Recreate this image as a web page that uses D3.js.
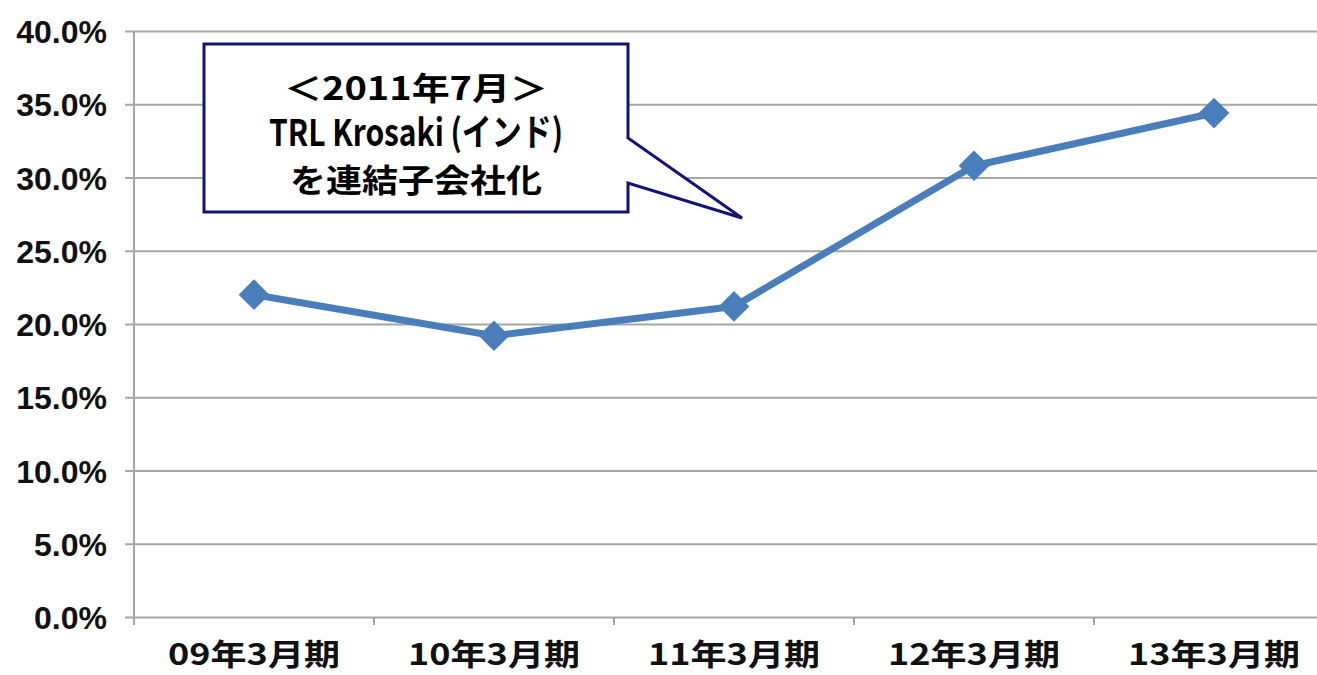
<!DOCTYPE html>
<html>
<head>
<meta charset="utf-8">
<script src="https://cdn.jsdelivr.net/npm/d3@7"></script>
<style>
  body { margin: 0; background: #fff; }
  svg { display: block; font-family: "Liberation Sans", Arial, "Noto Sans CJK JP", sans-serif; }
</style>
</head>
<body>
<div id="chart"></div>
<script>
const categories = ["09年3月期", "10年3月期", "11年3月期", "12年3月期", "13年3月期"];
const ratios = [22.0, 19.2, 21.2, 30.8, 34.4];
const yTicks = [0, 5, 10, 15, 20, 25, 30, 35, 40];
const calloutLines = ["＜2011年7月＞", "TRL Krosaki (インド)", "を連結子会社化"];

const width = 1317, height = 675;
const margin = {top: 31, left: 134};
const plotH = 586, plotW = 1200;

const svg = d3.select("#chart")
  .append("svg")
  .attr("width", width)
  .attr("height", height);

const g = svg.append("g")
  .attr("transform", `translate(${margin.left},${margin.top})`);

// scales
const x = d3.scaleBand().domain(categories).range([0, plotW]);
const y = d3.scaleLinear().domain([0, 40]).range([plotH, 0]);

// gridlines + y axis
const yAxis = g.append("g")
  .call(d3.axisLeft(y).tickValues(yTicks).tickSize(-plotW - 20).tickPadding(27)
    .tickFormat(d => d.toFixed(1) + "%"));
yAxis.select(".domain").remove();
yAxis.selectAll(".tick line").attr("x1", -9).attr("stroke", "#a6a6a6").attr("stroke-width", 2);
yAxis.selectAll("text")
  .attr("font-size", 32)
  .attr("fill", "#111")
  .attr("font-weight", "bold")
  .attr("dy", "0.36em");

// vertical axis line
g.append("line")
  .attr("x1", 0).attr("x2", 0)
  .attr("y1", y(40)).attr("y2", y(0) + 8)
  .attr("stroke", "#a6a6a6").attr("stroke-width", 2);

// x axis
const xAxis = g.append("g")
  .attr("transform", `translate(0,${plotH})`)
  .call(d3.axisBottom(x).tickSize(0));
xAxis.select(".domain").remove();
xAxis.selectAll("text")
  .attr("y", 48)
  .attr("dy", 0)
  .attr("font-size", 30)
  .attr("font-weight", "bold")
  .attr("fill", "#111")
  .attr("font-family", "'Noto Sans CJK JP', sans-serif")
  .attr("textLength", 172)
  .attr("lengthAdjust", "spacingAndGlyphs");

// category boundary ticks
g.append("g").selectAll("line")
  .data(categories.slice(1))
  .join("line")
  .attr("x1", d => x(d)).attr("x2", d => x(d))
  .attr("y1", plotH).attr("y2", plotH + 8)
  .attr("stroke", "#a6a6a6").attr("stroke-width", 2);

// line
const pts = categories.map((c, i) => [x(c) + x.bandwidth() / 2, y(ratios[i])]);
g.append("path")
  .datum(pts)
  .attr("d", d3.line())
  .attr("fill", "none")
  .attr("stroke", "#4a7ebb")
  .attr("stroke-width", 7)
  .attr("stroke-linejoin", "round");

g.selectAll(".pt")
  .data(pts)
  .join("path")
  .attr("class", "pt")
  .attr("transform", d => `translate(${d[0]},${d[1]})`)
  .attr("d", d3.symbol(d3.symbolDiamond2, 600))
  .attr("fill", "#4a7ebb");

// callout
const callout = svg.append("g");
callout.append("path")
  .attr("d", "M204,44 H628 V138 L742,218 L628,183 V212 H204 Z")
  .attr("fill", "#fff")
  .attr("stroke", "#10147a")
  .attr("stroke-width", 3);
const lineWidths = [264, 294, 252];
const lineSizes = [32, 37, 32];
callout.selectAll("text")
  .data(calloutLines)
  .join("text")
  .attr("x", 416)
  .attr("y", (d, i) => 100 + i * 46)
  .attr("text-anchor", "middle")
  .attr("font-size", (d, i) => lineSizes[i])
  .attr("font-weight", "bold")
  .attr("font-family", "'Noto Sans CJK JP', sans-serif")
  .attr("fill", "#000")
  .attr("textLength", (d, i) => lineWidths[i])
  .attr("lengthAdjust", "spacingAndGlyphs")
  .text(d => d);
</script>
</body>
</html>
